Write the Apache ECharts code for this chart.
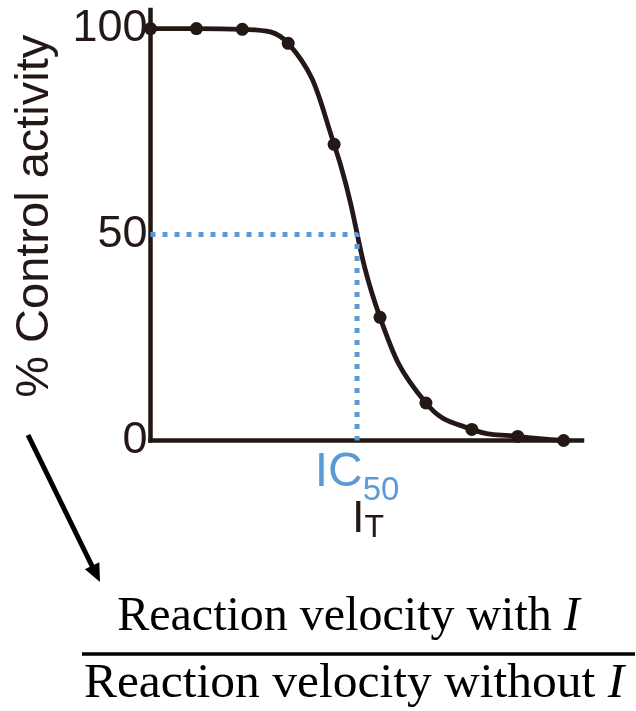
<!DOCTYPE html>
<html><head><meta charset="utf-8">
<script src="https://cdn.jsdelivr.net/npm/echarts@6/dist/echarts.min.js"></script>
<style>html,body{margin:0;padding:0;background:#fff}#c{width:636px;height:711px}</style>
</head><body><div id="c"></div>
<script>
// ---- data ----
const concIndex = [0, 1, 2, 3, 4, 5, 6, 7, 8, 9];          // inhibitor concentration steps (log scale)
const activity  = [100, 100, 99.8, 96.4, 71.9, 29.9, 9.1, 2.7, 1.0, 0]; // % control activity
const yTicks = [0, 50, 100];
const halfLevel = 50;
const ic50Index = 4.5;
const yAxisTitle = '% Control activity';
const fractionTop = 'Reaction velocity with ';
const fractionBottom = 'Reaction velocity without ';
const inhibitorSymbol = 'I';

const ink = '#231815', blue = '#5b9bd5';
const sans = 'Liberation Sans', serif = 'Liberation Serif';

const chart = echarts.init(document.getElementById('c'), null, {renderer: 'canvas'});
const option = {
  animation: false,
  grid: {left: 150.5, right: 54, top: 10, bottom: 270.5, containLabel: false, outerBoundsMode: 'none'},
  xAxis: {
    type: 'value', min: 0, max: 9.4,
    axisLine: {show: true, lineStyle: {color: ink, width: 4.5, cap: 'square'}},
    axisTick: {show: false}, axisLabel: {show: false}, splitLine: {show: false}
  },
  yAxis: {
    type: 'value', min: 0, max: 104.5, interval: 50,
    axisLine: {show: true, lineStyle: {color: ink, width: 4.5, cap: 'square'}},
    axisTick: {show: false}, splitLine: {show: false},
    axisLabel: {margin: 3, fontSize: 45, fontFamily: sans, color: ink,
      formatter: v => yTicks.includes(v) ? String(v) : ''},
    name: yAxisTitle, nameLocation: 'middle', nameRotate: 90, nameGap: 92,
    nameTextStyle: {fontSize: 47, fontFamily: sans, color: ink, padding: [0, 0, 0, 18]}
  },
  series: [
    {
      type: 'line', z: 3,
      data: concIndex.map((x, i) => [x, activity[i]]),
      smooth: 0.45,
      symbol: 'circle', symbolSize: 13,
      itemStyle: {color: ink},
      lineStyle: {color: ink, width: 4.8}
    },
    {
      type: 'line', z: 4, silent: true,
      data: [[0, halfLevel], [ic50Index, halfLevel], [ic50Index, 0]],
      symbol: 'none',
      lineStyle: {color: blue, width: 5, type: [5, 7]}
    },
    {
      type: 'scatter', z: 5, silent: true,
      data: [[ic50Index, 0]],
      symbolSize: 1, itemStyle: {color: 'rgba(0,0,0,0)', opacity: 1},
      label: {
        show: true, position: 'bottom', distance: 8, opacity: 1,
        formatter: '{ic|IC}{s50|50}\n{it|I}{st|T}',
        rich: {
          ic:  {fontSize: 48, fontFamily: sans, color: blue, lineHeight: 48, verticalAlign: 'top'},
          s50: {fontSize: 33, fontFamily: sans, color: blue, lineHeight: 30, verticalAlign: 'top', padding: [25, 0, 0, 0]},
          it:  {fontSize: 45, fontFamily: sans, color: ink, lineHeight: 48, verticalAlign: 'top', padding: [0, 0, 0, 22]},
          st:  {fontSize: 32, fontFamily: sans, color: ink, lineHeight: 30, verticalAlign: 'top', padding: [15, 0, 0, 0]}
        }
      }
    }
  ],
  graphic: [
    {type: 'line', shape: {x1: 28, y1: 435, x2: 93, y2: 568}, style: {stroke: '#000', lineWidth: 5}},
    {type: 'polygon', shape: {points: [[100, 582], [99.3, 562.3], [84.9, 569.3]]}, style: {fill: '#000'}},
    {type: 'line', shape: {x1: 82, y1: 654, x2: 635, y2: 654}, style: {stroke: '#000', lineWidth: 3.5}},
    {type: 'text', x: 348.5, y: 617, style: {
      text: '{n|' + fractionTop + '}{i|' + inhibitorSymbol + '}', align: 'center', verticalAlign: 'middle',
      rich: {n: {fontSize: 48, fontFamily: serif, fill: '#000'}, i: {fontSize: 48, fontFamily: serif, fontStyle: 'italic', fill: '#000'}}
    }},
    {type: 'text', x: 354, y: 684, style: {
      text: '{n|' + fractionBottom + '}{i|' + inhibitorSymbol + '}', align: 'center', verticalAlign: 'middle',
      rich: {n: {fontSize: 49.5, fontFamily: serif, fill: '#000'}, i: {fontSize: 49.5, fontFamily: serif, fontStyle: 'italic', fill: '#000'}}
    }}
  ]
};
chart.setOption(option);
</script></body></html>
